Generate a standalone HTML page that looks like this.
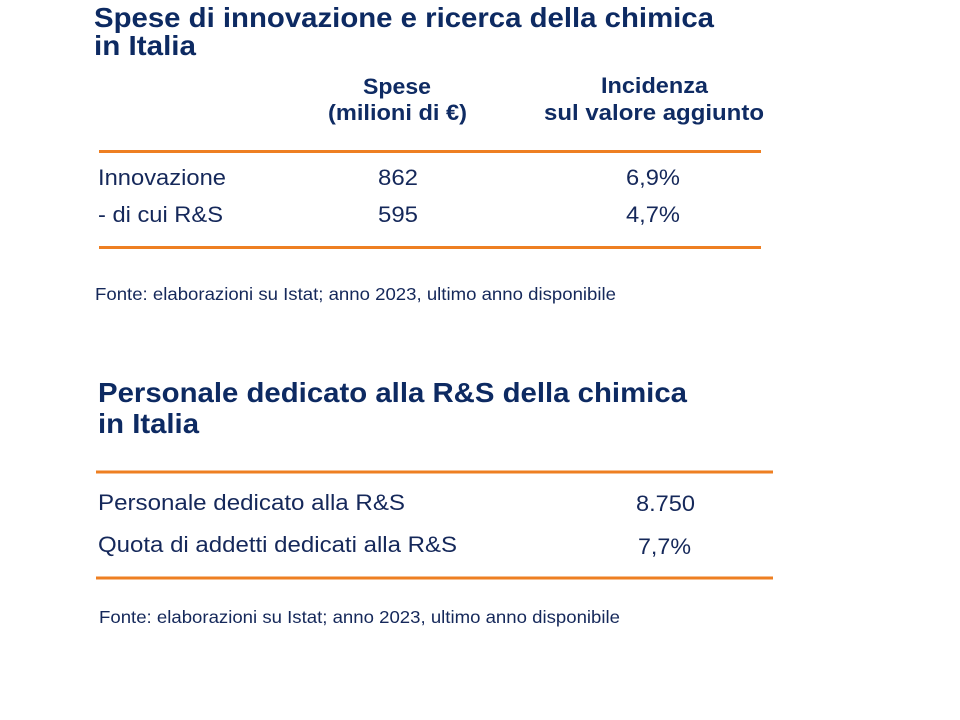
<!DOCTYPE html>
<html>
<head>
<meta charset="utf-8">
<style>
  html, body { margin: 0; padding: 0; background: #ffffff; }
  body { width: 960px; height: 720px; overflow: hidden; }
  svg { display: block; }
  text { font-family: "Liberation Sans", Arial, sans-serif; }
  .t { font-weight: bold; fill: #0d2a62; font-size: 28px; }
  .h { font-weight: bold; fill: #0f2b63; font-size: 22px; }
  .b { fill: #15285a; font-size: 22px; }
  .f { fill: #15285a; font-size: 17.5px; }
  .o { stroke: #ee7f22; stroke-width: 3; }
</style>
</head>
<body>
<svg width="960" height="720" viewBox="0 0 960 720" xmlns="http://www.w3.org/2000/svg">
  <rect width="960" height="720" fill="#ffffff"/>

  <!-- Section 1 -->
  <text class="t" x="94" y="27" textLength="620" lengthAdjust="spacingAndGlyphs">Spese di innovazione e ricerca della chimica</text>
  <text class="t" x="94" y="55" textLength="102" lengthAdjust="spacingAndGlyphs">in Italia</text>

  <text class="h" x="363" y="94" textLength="68" lengthAdjust="spacingAndGlyphs">Spese</text>
  <text class="h" x="328" y="120" textLength="139" lengthAdjust="spacingAndGlyphs">(milioni di €)</text>
  <text class="h" x="601" y="93" textLength="107" lengthAdjust="spacingAndGlyphs">Incidenza</text>
  <text class="h" x="544" y="120" textLength="220" lengthAdjust="spacingAndGlyphs">sul valore aggiunto</text>

  <line class="o" x1="99" y1="151.5" x2="761" y2="151.5"/>

  <text class="b" x="98" y="185" textLength="128" lengthAdjust="spacingAndGlyphs">Innovazione</text>
  <text class="b" x="378" y="185" textLength="40" lengthAdjust="spacingAndGlyphs">862</text>
  <text class="b" x="626" y="185" textLength="54" lengthAdjust="spacingAndGlyphs">6,9%</text>

  <text class="b" x="98" y="222" textLength="125" lengthAdjust="spacingAndGlyphs">- di cui R&amp;S</text>
  <text class="b" x="378" y="222" textLength="40" lengthAdjust="spacingAndGlyphs">595</text>
  <text class="b" x="626" y="222" textLength="54" lengthAdjust="spacingAndGlyphs">4,7%</text>

  <line class="o" x1="99" y1="247.5" x2="761" y2="247.5"/>

  <text class="f" x="95" y="300" textLength="521" lengthAdjust="spacingAndGlyphs">Fonte: elaborazioni su Istat; anno 2023, ultimo anno disponibile</text>

  <!-- Section 2 -->
  <text class="t" x="98" y="402" textLength="589" lengthAdjust="spacingAndGlyphs">Personale dedicato alla R&amp;S della chimica</text>
  <text class="t" x="98" y="433" textLength="101" lengthAdjust="spacingAndGlyphs">in Italia</text>

  <line class="o" x1="96" y1="472" x2="773" y2="472"/>

  <text class="b" x="98" y="510" textLength="307" lengthAdjust="spacingAndGlyphs">Personale dedicato alla R&amp;S</text>
  <text class="b" x="636" y="511" textLength="59" lengthAdjust="spacingAndGlyphs">8.750</text>

  <text class="b" x="98" y="552" textLength="359" lengthAdjust="spacingAndGlyphs">Quota di addetti dedicati alla R&amp;S</text>
  <text class="b" x="638" y="554" textLength="53" lengthAdjust="spacingAndGlyphs">7,7%</text>

  <line class="o" x1="96" y1="578" x2="773" y2="578"/>

  <text class="f" x="99" y="623" textLength="521" lengthAdjust="spacingAndGlyphs">Fonte: elaborazioni su Istat; anno 2023, ultimo anno disponibile</text>
</svg>
</body>
</html>
